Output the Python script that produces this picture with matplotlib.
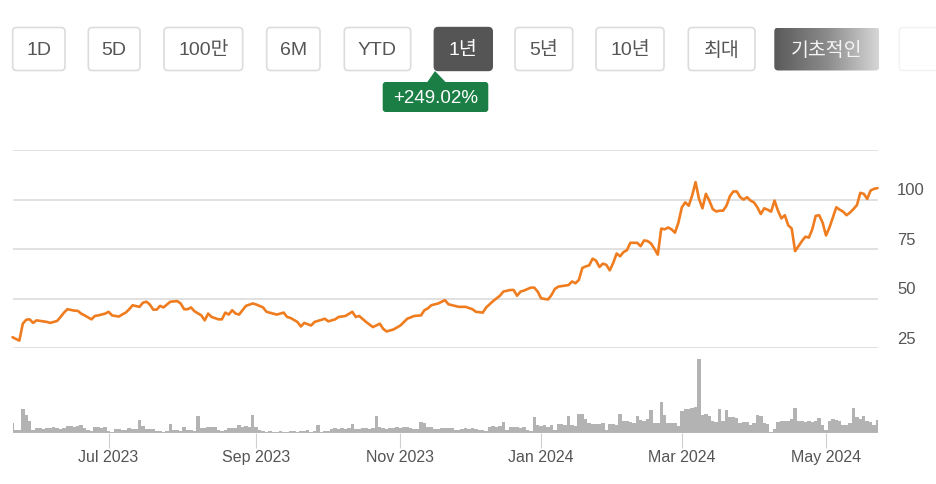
import matplotlib
matplotlib.use('Agg')
import matplotlib.pyplot as plt
import numpy as np
import pandas as pd
from matplotlib.patches import FancyBboxPatch, Polygon
from matplotlib.transforms import ScaledTranslation
from matplotlib.colors import LinearSegmentedColormap

plt.rcParams['font.family'] = ['Liberation Sans', 'Noto Sans CJK KR', 'DejaVu Sans']

# ---------------- data ----------------
range_buttons = ['1D', '5D', '100만', '6M', 'YTD', '1년', '5년', '10년', '최대', '기초적인']
active_button = '1년'
change_label = '+249.02%'

session_idx = [0, 1, 2, 3, 4, 5, 6, 7, 9, 10, 11, 13, 14, 15, 16, 18, 19, 20, 21, 23, 24, 25, 27, 28, 29,
               31, 32, 33, 34, 35, 37, 38, 39, 40, 41, 42, 43, 44, 45, 46, 48, 49, 50, 51, 52, 53, 55, 56,
               57, 58, 60, 61, 62, 63, 64, 65, 66, 67, 68, 70, 71, 73, 74, 76, 77, 79, 80, 81, 83, 84, 85,
               87, 88, 91, 92, 94, 95, 97, 99, 100, 101, 103, 105, 107, 108, 109, 111, 113, 115, 117, 119,
               120, 121, 122, 124, 126, 127, 130, 132, 134, 135, 137, 138, 140, 142, 143, 145, 146, 147,
               148, 149, 151, 152, 153, 154, 156, 157, 158, 159, 161, 162, 163, 164, 165, 166, 167, 168,
               169, 170, 171, 172, 173, 174, 175, 176, 177, 178, 179, 180, 182, 183, 184, 185, 186, 187,
               188, 189, 190, 191, 192, 193, 194, 195, 196, 197, 198, 199, 200, 201, 202, 203, 204, 205,
               206, 207, 208, 209, 210, 211, 212, 213, 214, 215, 216, 217, 218, 219, 220, 221, 222, 223,
               224, 225, 226, 227, 228, 230, 231, 232, 233, 234, 235, 236, 237, 238, 239, 240, 241, 242,
               243, 244, 245, 246, 247, 248, 249, 250, 251, 252]

price = [30.6, 29.7, 28.9, 37.4, 39.4, 39.6, 37.8, 39.1, 38.6, 38.3, 37.8, 38.8, 40.8, 43.0, 44.7, 44.0,
         43.9, 42.5, 41.6, 39.6, 41.3, 41.6, 42.5, 43.4, 41.6, 41.0, 42.1, 43.0, 44.7, 46.7, 45.9, 48.0,
         48.5, 47.1, 44.5, 44.5, 46.4, 45.6, 47.1, 48.5, 48.8, 47.6, 44.7, 44.7, 45.6, 43.7, 41.6, 39.1,
         42.5, 40.8, 39.6, 39.6, 43.0, 42.0, 44.2, 42.5, 42.0, 44.2, 46.4, 47.6, 47.1, 45.6, 43.4, 42.5,
         42.0, 43.0, 40.8, 40.3, 38.3, 36.0, 37.8, 36.5, 38.3, 39.9, 38.6, 39.6, 40.8, 41.3, 43.4, 40.8,
         41.3, 38.3, 35.7, 37.4, 34.8, 33.5, 34.5, 36.5, 39.9, 41.3, 41.6, 44.2, 45.1, 46.7, 47.6, 49.3,
         47.2, 45.9, 45.9, 44.7, 43.4, 43.0, 45.6, 48.8, 51.5, 53.6, 54.4, 54.4, 51.5, 53.6, 54.1, 55.6,
         55.6, 53.6, 50.2, 49.6, 51.8, 54.9, 56.1, 56.6, 56.9, 58.7, 57.8, 59.5, 65.5, 66.3, 66.8, 70.2,
         69.2, 66.0, 67.7, 67.1, 64.3, 68.0, 72.8, 71.4, 73.5, 74.5, 78.2, 78.2, 76.5, 79.4, 79.1, 77.9,
         75.2, 72.2, 85.4, 85.0, 85.9, 85.0, 83.3, 88.4, 96.1, 98.6, 96.9, 102.0, 108.8, 100.3, 95.6,
         102.9, 99.5, 95.2, 94.0, 94.4, 94.4, 96.9, 101.7, 104.1, 104.1, 101.2, 100.0, 101.2, 99.5, 98.6,
         96.1, 92.7, 95.6, 94.9, 93.9, 99.5, 94.4, 90.5, 92.1, 87.0, 85.4, 74.0, 79.1, 81.3, 80.8, 85.0,
         91.8, 92.1, 88.4, 81.9, 85.9, 91.0, 96.1, 94.9, 93.9, 92.1, 93.5, 95.2, 97.2, 103.4, 102.9,
         100.3, 104.6, 105.4, 105.8]

volume = [10, 3, 3, 24, 18, 12, 3, 5, 5, 4, 5, 5, 6, 5, 4, 5, 7, 7, 6, 7, 8, 5, 3, 2, 6, 6, 5, 6, 2, 1,
          4, 4, 3, 3, 5, 4, 4, 13, 7, 4, 4, 4, 2, 2, 1, 2, 9, 3, 3, 2, 6, 3, 3, 2, 17, 5, 5, 6, 6, 6,
          3, 2, 3, 5, 5, 5, 8, 6, 7, 6, 18, 6, 3, 2, 1, 2, 1, 1, 2, 1, 1, 2, 2, 1, 2, 2, 3, 1, 2, 8,
          1, 2, 2, 4, 5, 4, 5, 4, 5, 9, 4, 4, 5, 5, 4, 5, 17, 6, 5, 4, 5, 5, 6, 5, 6, 6, 5, 4, 4, 11,
          10, 6, 6, 4, 4, 5, 5, 5, 5, 3, 3, 4, 5, 4, 5, 4, 3, 3, 2, 6, 7, 6, 7, 11, 3, 6, 6, 6, 5, 6,
          3, 2, 16, 8, 7, 8, 6, 8, 3, 9, 9, 8, 17, 8, 7, 19, 19, 14, 10, 9, 9, 9, 10, 3, 9, 9, 8, 19,
          12, 12, 11, 10, 17, 13, 12, 14, 23, 10, 10, 31, 18, 10, 10, 10, 7, 22, 24, 24, 25, 26, 74, 18,
          19, 17, 12, 11, 24, 12, 23, 16, 16, 15, 10, 11, 11, 8, 10, 18, 17, 10, 9, 1, 4, 11, 12, 12, 12,
          14, 25, 12, 12, 11, 12, 11, 12, 15, 8, 3, 12, 14, 13, 12, 8, 8, 10, 25, 16, 14, 17, 12, 11, 8, 13]

grid_levels = [25, 50, 75, 100, 125]
price_tick_levels = [25, 50, 75, 100]
month_tick_dates = ['2023-07-01', '2023-09-01', '2023-11-01', '2024-01-01', '2024-03-01', '2024-05-01']
market_holidays = ['2023-05-29', '2023-06-19', '2023-07-04', '2023-09-04', '2023-11-23', '2023-12-25',
                   '2024-01-01', '2024-01-15', '2024-02-19', '2024-03-29']
first_session, last_session = '2023-05-22', '2024-05-22'

# ---------------- layout helpers ----------------
W, H = 936, 485
fig = plt.figure(figsize=(W / 100, H / 100), dpi=100)
fig.patch.set_facecolor('white')


def px_axes(l, t, r, b):
    return fig.add_axes([l / W, 1 - b / H, (r - l) / W, (b - t) / H])


sessions = pd.bdate_range(first_session, last_session, freq='C', holidays=market_holidays)
n = len(volume)
tick_pos = [int(sessions.searchsorted(pd.Timestamp(d))) for d in month_tick_dates]
tick_lab = [pd.Timestamp(d).strftime('%b %Y') for d in month_tick_dates]

# ---------------- price axes ----------------
ax = px_axes(12.5, 151, 877.5, 349.3)
ax.set_xlim(0, n - 1)
ax.set_ylim(min(grid_levels), max(grid_levels))
for g in grid_levels:
    ax.axhline(g, color='#dcdcdc', lw=1.2, zorder=0)
ax.plot(session_idx, price, color='#ef7d20', lw=1.9, solid_joinstyle='round',
        solid_capstyle='round', clip_on=False, zorder=3)
lab_tr = ax.get_yaxis_transform() + ScaledTranslation(0.195, 0.10, fig.dpi_scale_trans)
for v in price_tick_levels:
    ax.text(1.0, v, str(v), transform=lab_tr, ha='left', va='center',
            fontsize=12, color='#555555')
ax.set_xticks([])
ax.set_yticks([])
for s in ax.spines.values():
    s.set_visible(False)
ax.patch.set_alpha(0)

# ---------------- volume axes ----------------
vax = px_axes(12.5, 360, 877.5, 434)
vax.set_xlim(0, n - 1)
vax.set_ylim(0, max(volume))
vax.bar(np.arange(n), volume, width=1.0, color='#b3b3b3', linewidth=0)
vax.axhline(0, color='#c4c4c4', lw=1.0)
vax.set_xticks(tick_pos)
vax.set_xticklabels(tick_lab)
vax.tick_params(axis='x', length=11, width=0.8, color='#cfcfcf', labelsize=11.5,
                labelcolor='#555555', pad=0.5)
vax.set_yticks([])
for s in vax.spines.values():
    s.set_visible(False)
vax.patch.set_alpha(0)

# ---------------- range buttons & badge ----------------
ui = fig.add_axes([0, 0, 1, 1], zorder=-1)
ui.set_xlim(0, W)
ui.set_ylim(H, 0)
ui.axis('off')

button_edges = [(12.7, 65), (88.3, 140), (164, 242.7), (266.7, 320), (344.3, 410.7),
                (434.3, 492.3), (515, 572.7), (596, 664), (688.3, 755), (774.3, 879.3)]
by0, by1 = 28.5, 71.5
for label, (x0, x1) in zip(range_buttons, button_edges):
    if label == active_button:
        p = FancyBboxPatch((x0, by0), x1 - x0, by1 - by0, boxstyle='round,pad=0,rounding_size=4',
                           fc='#555555', ec='#555555', lw=1)
        ui.add_patch(p)
        tc = 'white'
    elif label == range_buttons[-1]:
        p = FancyBboxPatch((x0, by0), x1 - x0, by1 - by0, boxstyle='round,pad=0,rounding_size=4',
                           fc='none', ec='none', lw=0)
        ui.add_patch(p)
        cmap = LinearSegmentedColormap.from_list('g', ['#5a5a5a', '#8a8a8a', '#d6d6d6'])
        im = ui.imshow(np.linspace(0, 1, 200)[None, :], extent=(x0, x1, by1, by0), cmap=cmap,
                       aspect='auto', interpolation='bilinear')
        im.set_clip_path(p)
        tc = '#f4f4f4'
    else:
        p = FancyBboxPatch((x0, by0), x1 - x0, by1 - by0, boxstyle='round,pad=0,rounding_size=4',
                           fc='white', ec='#dcdcdc', lw=1.2)
        ui.add_patch(p)
        tc = '#555555'
    ui.text((x0 + x1) / 2, (by0 + by1) / 2 + 0.5, label, ha='center', va='center',
            fontsize=14, color=tc)

# faded partial button at the right edge
ui.add_patch(FancyBboxPatch((899.3, by0), 60, by1 - by0, boxstyle='round,pad=0,rounding_size=4',
                            fc='white', ec='#f2f2f2', lw=1.0))

# change badge
ui.add_patch(Polygon([(427, 83.5), (446, 83.5), (435, 72)], closed=True, fc='#1b7e45', ec='none'))
ui.add_patch(FancyBboxPatch((382.7, 83), 105.6, 30, boxstyle='round,pad=0,rounding_size=3',
                            fc='#1b7e45', ec='none'))
ui.text(435.5, 98.5, change_label, ha='center', va='center', fontsize=13.5, color='white')
ui.set_xlim(0, W)
ui.set_ylim(H, 0)

fig.savefig('out.png', dpi=100, facecolor='white')
